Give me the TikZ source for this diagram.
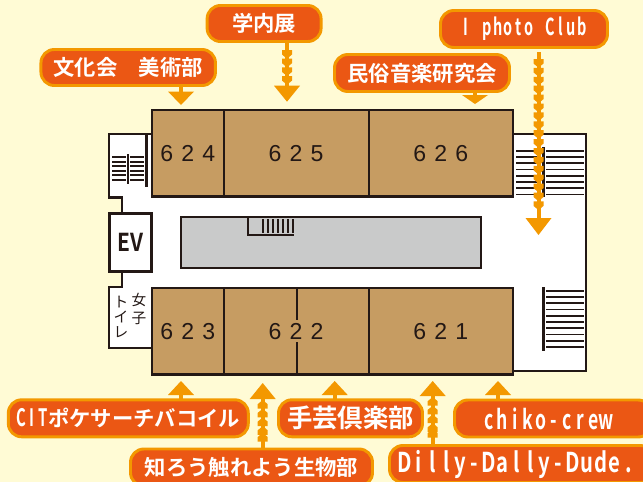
\documentclass[tikz,border=0pt]{standalone}
\usepackage{graphicx}
\usepackage{fontspec}
\setmainfont{Liberation Sans}
\newfontfamily\cjk{Noto Sans CJK JP}[BoldFont={* Bold}]
\definecolor{bgy}{HTML}{FFFBD5}
\definecolor{lbl}{HTML}{EB5714}
\definecolor{lbe}{HTML}{F39800}
\definecolor{room}{HTML}{C69C62}
\definecolor{ink}{HTML}{231815}
\definecolor{core}{HTML}{C9CACA}
\makeatletter
\newcommand{\Mono}[4]{\fontsize{#1}{#1}\selectfont\scalebox{#2}[1]{\@tfor\mc:=#4\do{\makebox[#3][c]{\mc}}}}
\newcommand{\Pitched}[2]{\@tfor\mc:=#2\do{\makebox[#1][c]{\mc}}}
\makeatother
\tikzset{
  x=0.75pt,y=-0.75pt,
  wall/.style={draw=ink,line width=2.2pt,line join=miter},
  wallthin/.style={draw=ink,line width=1.8pt},
  roomf/.style={wall,fill=room},
  tread/.style={draw=ink,line width=1.4pt},
  roomno/.style={font=\fontsize{17.3}{17}\selectfont,text=ink,inner sep=0pt},
  tag/.style={rounded corners=10pt,fill=lbl,draw=lbe,line width=2.2pt,text=white,inner sep=0pt,font=\cjk\bfseries\fontsize{16}{16}\selectfont,align=center},
  tagsize/.style n args={2}{minimum width=#1*0.75pt,minimum height=#2*0.75pt},
}
\newcommand{\ArrDown}[4]{% x, apex, stem top, head height
  \fill[lbe] (#1-13,#2-#4) -- (#1+13,#2-#4) -- (#1,#2) -- cycle;
  \fill[lbe] (#1-2,#3) rectangle (#1+2,#2-#4+1);}
\newcommand{\ArrUp}[4]{%
  \fill[lbe] (#1-13,#2+#4) -- (#1+13,#2+#4) -- (#1,#2) -- cycle;
  \fill[lbe] (#1-2,#3) rectangle (#1+2,#2+#4-1);}
\newcommand{\ChevD}[2]{\fill[lbe] (#1-5,#2) -- (#1+5,#2) -- (#1+5,#2+4.5) -- (#1,#2+8.7) -- (#1-5,#2+4.5) -- cycle;}
\newcommand{\ChevU}[2]{\fill[lbe] (#1-5,#2) -- (#1+5,#2) -- (#1+5,#2-4.5) -- (#1,#2-8.7) -- (#1-5,#2-4.5) -- cycle;}
\begin{document}
\begin{tikzpicture}
\useasboundingbox (0,0) rectangle (643,482);
\fill[bgy] (0,0) rectangle (643,482);
% floor
\fill[white] (109,134) -- (586,134) -- (586,371) -- (513,371) -- (513,374) -- (152,374) -- (152,348) -- (109,348) -- (109,287) -- (122,287) -- (122,197) -- (109,197) -- cycle;
\draw[wall] (152,134) -- (109,134) -- (109,197.5) -- (122,197.5) -- (122,213);
\draw[wall] (122,272) -- (122,287) -- (109,287) -- (109,348) -- (152,348);
\draw[wall] (513,134) -- (586,134) -- (586,371) -- (513,371);
% EV
\node[wall,fill=white,minimum width=32pt,minimum height=44pt,inner sep=0pt,font=\cjk\bfseries\fontsize{18.5}{18}\selectfont,text=ink] (ev) at (130.5,242.5) {\scalebox{.85}[1]{EV}};
% rooms
\path[roomf] (152,110) rectangle (224,196.5);
\path[roomf] (224,110) rectangle (369,196.5);
\path[roomf] (369,110) rectangle (513,196.5);
\path[roomf] (152,288) rectangle (224,374.5);
\path[roomf] (224,288) rectangle (369,374.5);
\path[roomf] (369,288) rectangle (513,374.5);
\draw[wall] (297,288) -- (297,320);
\draw[wall] (297,342) -- (297,374);
\node[roomno] (n624) at (187.7,154) {\Pitched{15.75pt}{624}};
\node[roomno] (n625) at (296,154) {\Pitched{15.75pt}{625}};
\node[roomno] (n626) at (440.7,154) {\Pitched{15.75pt}{626}};
\node[roomno] (n623) at (187.7,331.5) {\Pitched{15.75pt}{623}};
\node[roomno] (n622) at (296,331.5) {\Pitched{15.75pt}{622}};
\node[roomno] (n621) at (440.7,331.5) {\Pitched{15.75pt}{621}};
% core
\path[wall,fill=core] (181,217) rectangle (481,268);
\draw[wall] (248,217) -- (248,235) -- (294,235);
\foreach \x in {263,268,...,294} \draw[draw=ink,line width=1.5pt] (\x,219) -- (\x,233);
% left stairs
\foreach \y in {157,161.6,...,181} {
  \draw[tread] (112,\y) -- (126,\y);
  \draw[tread] (130,\y) -- (144,\y);}
\draw[wallthin] (128,154) -- (128,184);
\draw[wallthin] (146.5,134) -- (146.5,187);
% toilet
\node[inner sep=0pt,font=\cjk\fontsize{11}{14}\selectfont,text=ink,align=center] (j) at (139,309) {女\\子};
\node[inner sep=0pt,font=\cjk\fontsize{11}{11.25}\selectfont,text=ink,align=center] (t) at (121,316.5) {ト\\イ\\レ};
% right stairs
\foreach \y in {150.7,156.95,...,195} {
  \draw[tread] (516,\y) -- (541,\y);
  \draw[tread] (546,\y) -- (583.5,\y);}
\draw[wall] (543.5,147) -- (543.5,197);
\foreach \y in {290.7,296.95,...,348} {\draw[tread] (546,\y) -- (583.5,\y);}
\draw[wall] (543.5,287) -- (543.5,351);
% arrows down
\ArrDown{181}{105}{85}{13.5}
\ArrDown{287}{101.7}{41}{16}
\foreach \y in {50,58.7,67.4,76.1} {\ChevD{287}{\y}}
\ArrDown{475}{104}{90}{9}
\ArrDown{538.5}{235}{52}{17}
\foreach \y in {59,67.9,...,210} {\ChevD{538.5}{\y}}
% arrows up
\ArrUp{181}{381}{400}{14}
\ArrUp{262.7}{383}{450}{16}
\foreach \y in {408.7,417.4,426.1,434.8,441.5} {\ChevU{262.7}{\y}}
\ArrUp{334.7}{381}{400}{14}
\ArrUp{432.7}{381}{446}{15}
\foreach \y in {405.7,414.4,423.1,431.8,437.5} {\ChevU{432.7}{\y}}
\ArrUp{498}{381}{400}{14}
% labels
\node[tag,tagsize={174.5}{36}] (a) at (128.2,67.5) {文化会\hspace{1em}美術部};
\node[tag,tagsize={114}{36}] (b) at (264.1,23.5) {学内展};
\node[tag,tagsize={175}{37}] (c) at (422,73) {民俗音楽研究会};
\node[tag,tagsize={167}{37}] (d) at (524,29) {\Mono{17.5}{.62}{12.7pt}{I~photo~Club}};
\node[tag,tagsize={240}{37}] (e) at (128.3,418.3) {\Mono{18}{.62}{12.9pt}{CIT}\fontsize{16}{16}\selectfont ポケサーチバコイル};
\node[tag,tagsize={242}{37}] (f) at (251.5,467.5) {知ろう触れよう生物部};
\node[tag,tagsize={144}{37},font=\cjk\bfseries\fontsize{19}{19}\selectfont] (g) at (350.5,418.3) {手芸倶楽部};
\node[tag,tagsize={197}{37}] (h) at (553,418.5) {\Mono{20}{.66}{14.8pt}{chiko-crew}\hspace{8pt}};
\node[tag,tagsize={264}{37}] (i) at (521.5,464) {\Mono{20.5}{.74}{14.2pt}{Dilly-Dally-Dude.}\hspace{7.5pt}};
\end{tikzpicture}
\end{document}
